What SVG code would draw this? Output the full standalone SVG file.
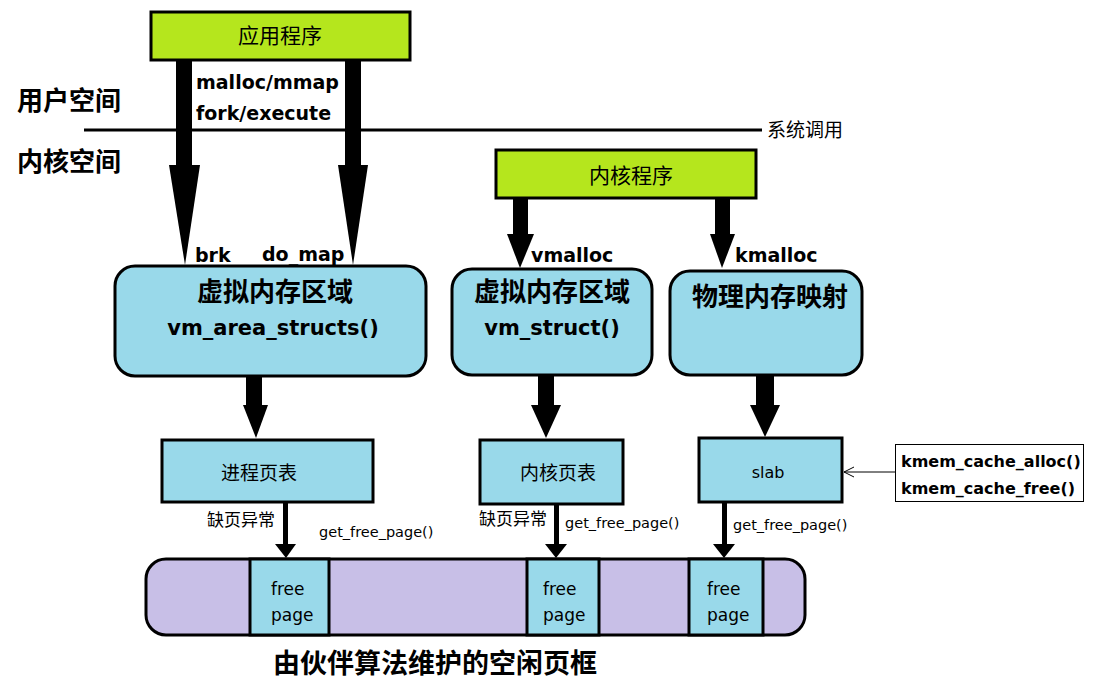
<svg xmlns="http://www.w3.org/2000/svg" width="1093" height="689" viewBox="0 0 1093 689">
<style>
text{font-family:"Noto Sans CJK SC","Noto Sans",sans-serif;fill:#000}
.l{font-family:"DejaVu Sans","Noto Sans CJK SC",sans-serif}
.b{font-weight:bold}
.green{fill:#b5e61d;stroke:#000;stroke-width:3}
.blue{fill:#99d9ea;stroke:#000;stroke-width:3}
.purple{fill:#c8bfe7;stroke:#000;stroke-width:3}
.arr{fill:#000}
</style>
<defs>
<marker id="open" markerWidth="12" markerHeight="12" refX="11" refY="6" orient="auto" markerUnits="userSpaceOnUse">
<path d="M1,1 L11,6 L1,11" fill="none" stroke="#000" stroke-width="1"/>
</marker>
</defs>
<rect width="1093" height="689" fill="#fff"/>

<g id="space-labels">
<text x="17" y="110" font-size="26" class="b">用户空间</text>
<text x="17" y="171" font-size="26" class="b">内核空间</text>
<line x1="84" y1="130" x2="762" y2="130" stroke="#000" stroke-width="3"/>
<text x="767" y="137" font-size="19">系统调用</text>
</g>

<g id="connectors">
<rect class="arr" x="176" y="60" width="16" height="106"/>
<polygon class="arr" points="169,165 200,165 185,265"/>
<rect class="arr" x="345" y="60" width="16" height="106"/>
<polygon class="arr" points="338,165 368,165 353,265"/>
<rect class="arr" x="513" y="197" width="15" height="38"/>
<polygon class="arr" points="507,234 534,234 520,268"/>
<rect class="arr" x="715" y="197" width="15" height="38"/>
<polygon class="arr" points="710,234 735,234 722,268"/>
<rect class="arr" x="246" y="376" width="16" height="30"/>
<polygon class="arr" points="243,405 268,405 256,438"/>
<rect class="arr" x="538" y="374" width="16" height="32"/>
<polygon class="arr" points="531,405 561,405 546,438"/>
<rect class="arr" x="756" y="374" width="18" height="32"/>
<polygon class="arr" points="750,405 780,405 765,437"/>
<rect class="arr" x="283" y="502" width="5" height="44"/>
<polygon class="arr" points="275,544 296,544 286,558"/>
<rect class="arr" x="554" y="503" width="5" height="43"/>
<polygon class="arr" points="545,544 567,544 556,558"/>
<rect class="arr" x="722" y="502" width="5" height="44"/>
<polygon class="arr" points="713,544 735,544 724,558"/>
<line x1="895" y1="472" x2="844" y2="472" stroke="#000" stroke-width="1" marker-end="url(#open)"/>
<text x="196" y="89" font-size="19" class="b l">malloc/mmap</text>
<text x="196" y="120" font-size="19" class="b l">fork/execute</text>
<text x="195" y="262" font-size="19" class="b l">brk</text>
<text x="262" y="261" font-size="19" class="b l">do_map</text>
<text x="531" y="262" font-size="19" class="b l">vmalloc</text>
<text x="735" y="262" font-size="19" class="b l">kmalloc</text>
<text x="207" y="526" font-size="17">缺页异常</text>
<text x="319" y="537" font-size="14.5" class="l">get_free_page()</text>
<text x="479" y="525" font-size="17">缺页异常</text>
<text x="565" y="528" font-size="14.5" class="l">get_free_page()</text>
<text x="733" y="530" font-size="14.5" class="l">get_free_page()</text>
</g>

<g id="app-program">
<rect class="green" x="151" y="12" width="259" height="48"/>
<text x="280" y="43" font-size="21" text-anchor="middle">应用程序</text>
</g>

<g id="kernel-program">
<rect class="green" x="496" y="150" width="260" height="48"/>
<text x="631" y="183" font-size="21" text-anchor="middle">内核程序</text>
</g>

<g id="vm-area">
<rect class="blue" x="115" y="266" width="311" height="110" rx="20" ry="20"/>
<text x="275" y="301" font-size="26" class="b" text-anchor="middle">虚拟内存区域</text>
<text x="273" y="335" font-size="21" class="b l" text-anchor="middle">vm_area_structs()</text>
</g>

<g id="vm-struct">
<rect class="blue" x="452" y="269" width="200" height="106" rx="20" ry="20"/>
<text x="552" y="301" font-size="26" class="b" text-anchor="middle">虚拟内存区域</text>
<text x="552" y="335" font-size="21" class="b l" text-anchor="middle">vm_struct()</text>
</g>

<g id="phys-map">
<rect class="blue" x="670" y="271" width="192" height="104" rx="20" ry="20"/>
<text x="770" y="306" font-size="26" class="b" text-anchor="middle">物理内存映射</text>
</g>

<g id="proc-pt">
<rect class="blue" x="162" y="440" width="211" height="62"/>
<text x="259" y="480" font-size="19" text-anchor="middle">进程页表</text>
</g>

<g id="kern-pt">
<rect class="blue" x="480" y="440" width="143" height="64"/>
<text x="558" y="480" font-size="19" text-anchor="middle">内核页表</text>
</g>

<g id="slab">
<rect class="blue" x="699" y="438" width="143" height="64"/>
<text x="768" y="478" font-size="16" class="l" text-anchor="middle">slab</text>
</g>

<g id="kmem">
<rect x="895.5" y="444.5" width="188" height="57" fill="#fff" stroke="#000" stroke-width="1"/>
<text x="901" y="467" font-size="16" class="b l">kmem_cache_alloc()</text>
<text x="901" y="494" font-size="16" class="b l">kmem_cache_free()</text>
</g>

<g id="free-frames">
<rect class="purple" x="146" y="559" width="659" height="76" rx="20" ry="20"/>
<rect class="blue" x="250" y="559" width="79" height="76"/>
<rect class="blue" x="527" y="559" width="72" height="76"/>
<rect class="blue" x="689" y="559" width="74" height="76"/>
<text x="271" y="595" font-size="17" class="l">free</text>
<text x="271" y="621" font-size="17" class="l">page</text>
<text x="543" y="595" font-size="17" class="l">free</text>
<text x="543" y="621" font-size="17" class="l">page</text>
<text x="707" y="595" font-size="17" class="l">free</text>
<text x="707" y="621" font-size="17" class="l">page</text>
<text x="273" y="673" font-size="27" class="b">由伙伴算法维护的空闲页框</text>
</g>
</svg>
